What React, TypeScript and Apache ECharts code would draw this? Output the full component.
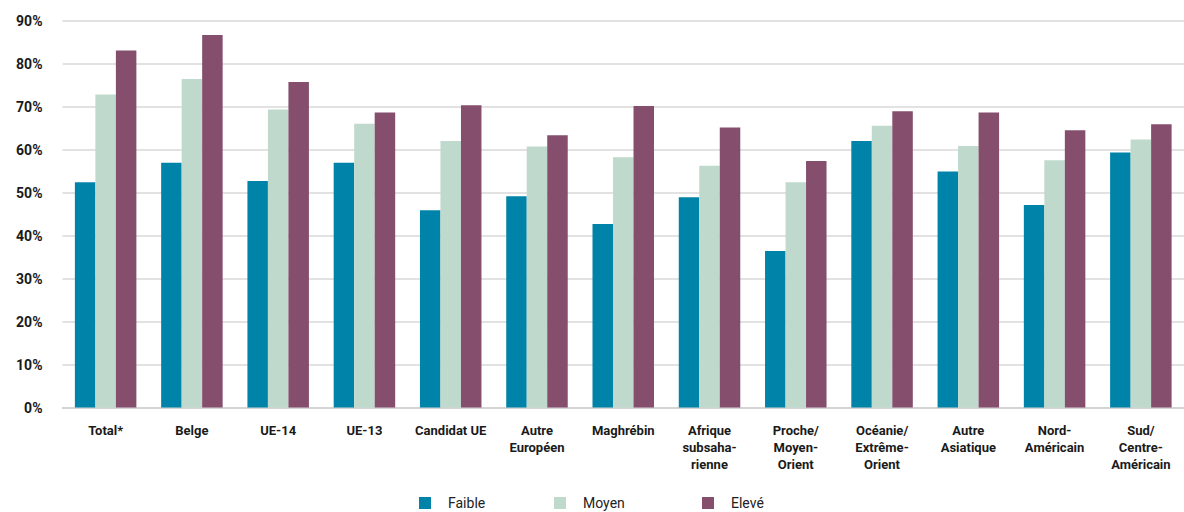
import React, { useEffect, useRef } from "react";
import * as echarts from "echarts";

const categories = [
  "Total*",
  "Belge",
  "UE-14",
  "UE-13",
  "Candidat UE",
  "Autre\nEuropéen",
  "Maghrébin",
  "Afrique\nsubsaha-\nrienne",
  "Proche/\nMoyen-\nOrient",
  "Océanie/\nExtrême-\nOrient",
  "Autre\nAsiatique",
  "Nord-\nAméricain",
  "Sud/\nCentre-\nAméricain",
];

const faible = [52.4, 56.9, 52.7, 56.9, 45.9, 49.1, 42.7, 48.9, 36.4, 62.0, 54.9, 47.1, 59.3];
const moyen = [72.8, 76.4, 69.3, 66.0, 62.0, 60.7, 58.2, 56.2, 52.4, 65.5, 60.8, 57.5, 62.3];
const eleve = [83.0, 86.6, 75.7, 68.6, 70.3, 63.3, 70.1, 65.1, 57.3, 68.9, 68.6, 64.5, 65.9];

const seriesNames = ["Faible", "Moyen", "Elevé"];
const colors = ["#0083A8", "#BFD9CC", "#854E6C"];

export default function App() {
  const ref = useRef<HTMLDivElement>(null);

  useEffect(() => {
    if (!ref.current) return;
    const chart = echarts.init(ref.current, null, { renderer: "svg" });
    const font = "Roboto, 'DejaVu Sans', sans-serif";
    const legendLefts = [417, 552, 700];
    chart.setOption({
      animation: false,
      textStyle: { fontFamily: font },
      grid: { left: 62.5, right: -9.5, top: 20.5, bottom: 104.5, containLabel: false },
      legend: seriesNames.map((n, i) => ({
        data: [n],
        left: legendLefts[i],
        top: 494,
        padding: 2,
        icon: "rect",
        itemWidth: 12,
        itemHeight: 12,
        textStyle: { color: "#222", fontSize: 14, fontFamily: font, padding: [0, 0, 0, 12] },
      })),
      xAxis: {
        type: "category",
        data: categories,
        axisLine: { lineStyle: { color: "#cfcfcf", width: 1.5 } },
        axisTick: { show: false },
        axisLabel: {
          interval: 0,
          margin: 14,
          color: "#1a1a1a",
          fontWeight: "bold",
          fontSize: 13,
          lineHeight: 17,
          fontFamily: font,
        },
      },
      yAxis: {
        type: "value",
        min: 0,
        max: 90,
        interval: 10,
        axisLine: { show: false },
        axisTick: { show: false },
        splitLine: { lineStyle: { color: "#d9d9d9", width: 1.5 } },
        axisLabel: {
          formatter: "{value}%",
          margin: 20,
          color: "#1a1a1a",
          fontWeight: "bold",
          fontSize: 14,
          fontFamily: font,
        },
      },
      series: [faible, moyen, eleve].map((d, i) => ({
        name: seriesNames[i],
        type: "bar",
        data: d,
        barWidth: 20.5,
        barGap: "0%",
        itemStyle: { color: colors[i] },
      })),
    });
    return () => chart.dispose();
  }, []);

  return (
    <div
      ref={ref}
      style={{ position: "fixed", left: 0, top: 0, width: 1184, height: 512, background: "#fff" }}
    />
  );
}
